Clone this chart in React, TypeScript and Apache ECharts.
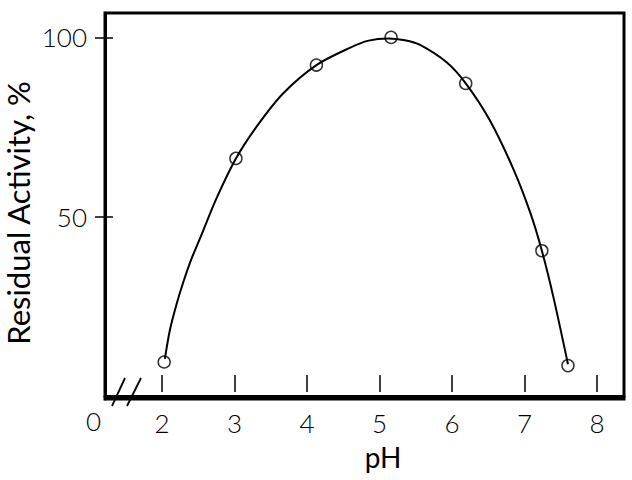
import { useEffect, useRef } from 'react';
import * as echarts from 'echarts';

// measured residual activity at each pH (open circles)
const phValues = [2.03, 3.02, 4.13, 5.16, 6.19, 7.24, 7.6];
const activity = [9.6, 66.3, 92.3, 100, 87.2, 40.6, 8.6];

// fitted curve
const curvePh = [2.04, 2.11, 2.2, 2.29, 2.4, 2.52, 2.75, 3.02, 3.31, 3.67, 4.13, 4.59, 4.85, 5.12, 5.35, 5.56, 5.93, 6.19, 6.52, 6.85, 7.08, 7.24, 7.4, 7.6];
const curveActivity = [10.5, 18.6, 25.6, 31.6, 38.0, 43.8, 55.1, 66.3, 75.3, 84.4, 92.3, 97.1, 99.1, 99.7, 99.2, 97.9, 93.0, 87.2, 77.0, 63.2, 51.2, 40.6, 27.6, 9.0];

const xTickValues = [2, 3, 4, 5, 6, 7, 8];
const yTickValues = [50, 100];
const brokenAxisLabel = '0';
const yTitle = 'Residual Activity, %';

const FONT = 'Lato, "DejaVu Sans", sans-serif';
const X_MIN = 1.214;
const X_MAX = 8.373;
const Y_MIN = -0.7;
const Y_MAX = 106.8;

export default function App() {
  const chartRef = useRef<HTMLDivElement>(null);

  useEffect(() => {
    if (!chartRef.current) return;
    document.body.style.margin = '0';
    const chart = echarts.init(chartRef.current, undefined, { renderer: 'svg' });

    const option: echarts.EChartsOption = {
      animation: false,
      backgroundColor: '#fff',
      grid: {
        left: 105,
        right: 8,
        top: 13,
        bottom: 81,
        show: true,
        borderColor: '#000',
        borderWidth: 3,
        outerBoundsMode: 'none',
      } as any,
      xAxis: [
        {
          type: 'value',
          min: X_MIN,
          max: X_MAX,
          name: 'pH',
          nameLocation: 'middle',
          nameGap: 44,
          nameTextStyle: { fontFamily: FONT, fontSize: 28, color: '#000', padding: [0, 0, 0, 37] },
          axisLine: { show: true, lineStyle: { color: '#000', width: 3 } },
          axisTick: { show: false },
          axisLabel: {
            customValues: xTickValues,
            margin: 11,
            fontFamily: FONT,
            fontWeight: 300,
            fontSize: 26,
            color: '#000',
          },
          splitLine: { show: false },
        },
        {
          // tick marks drawn just above the bottom line
          type: 'value',
          position: 'bottom',
          offset: -7,
          min: X_MIN,
          max: X_MAX,
          axisLine: { show: false },
          axisTick: {
            show: true,
            inside: true,
            length: 17,
            customValues: xTickValues,
            lineStyle: { color: '#000', width: 1.5 },
          },
          axisLabel: { show: false },
          splitLine: { show: false },
        },
      ],
      yAxis: [
        {
          type: 'value',
          min: Y_MIN,
          max: Y_MAX,
          axisLine: { show: true, lineStyle: { color: '#000', width: 3 } },
          axisTick: {
            show: true,
            length: 10,
            customValues: yTickValues,
            lineStyle: { color: '#000', width: 1.5 },
          },
          axisLabel: {
            customValues: yTickValues,
            margin: 18,
            fontFamily: FONT,
            fontWeight: 300,
            fontSize: 26,
            color: '#000',
          },
          splitLine: { show: false },
        },
        {
          type: 'value',
          position: 'left',
          min: Y_MIN,
          max: Y_MAX,
          axisLine: { show: false },
          axisTick: {
            show: true,
            inside: true,
            length: 8,
            customValues: yTickValues,
            lineStyle: { color: '#000', width: 1.5 },
          },
          axisLabel: { show: false },
          splitLine: { show: false },
        },
      ],
      series: [
        {
          type: 'line',
          data: curvePh.map((x, i) => [x, curveActivity[i]]),
          smooth: 0.3,
          showSymbol: false,
          lineStyle: { color: '#000', width: 2 },
          silent: true,
        },
        {
          type: 'scatter',
          data: phValues.map((x, i) => [x, activity[i]]),
          symbol: 'circle',
          symbolSize: 12,
          itemStyle: { color: 'rgba(0,0,0,0)', borderColor: '#000', borderWidth: 1.5 },
        },
      ],
      graphic: [
        {
          type: 'text',
          x: 18,
          y: 213,
          rotation: Math.PI / 2,
          style: {
            text: yTitle,
            fontFamily: FONT,
            fontSize: 31,
            fill: '#000',
            align: 'center',
            verticalAlign: 'middle',
          },
        },
        {
          type: 'text',
          left: 86,
          top: 408,
          style: { text: brokenAxisLabel, fontFamily: FONT, fontWeight: 300, fontSize: 26, fill: '#000' },
        },
        {
          type: 'line',
          shape: { x1: 112, y1: 406, x2: 125, y2: 378 },
          style: { stroke: '#000', lineWidth: 1.8 },
        },
        {
          type: 'line',
          shape: { x1: 127, y1: 406, x2: 141, y2: 378 },
          style: { stroke: '#000', lineWidth: 1.8 },
        },
      ],
    };

    chart.setOption(option);
    return () => chart.dispose();
  }, []);

  return <div ref={chartRef} style={{ width: 632, height: 480 }} />;
}
